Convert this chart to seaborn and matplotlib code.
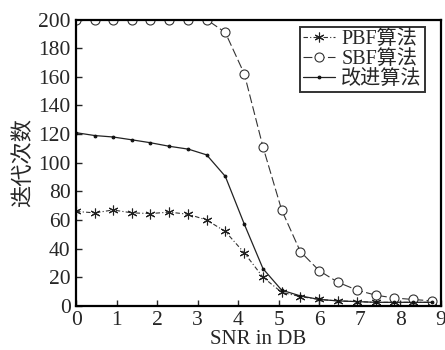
import numpy as np
import pandas as pd
import seaborn as sns
import matplotlib.pyplot as plt

# data
snr = [0.00, 0.46, 0.91, 1.38, 1.83, 2.30, 2.77, 3.22, 3.68, 4.15,
       4.61, 5.07, 5.53, 6.00, 6.46, 6.93, 7.39, 7.85, 8.31, 8.78]
pbf = [66, 65, 67, 65, 64.5, 65.5, 64, 60, 52, 37,
       20, 9.5, 6.5, 4.5, 3.5, 3, 2.5, 2.5, 2.5, 2.5]
sbf = [200, 200, 200, 200, 200, 200, 200, 200, 191, 162,
       111, 67, 38, 24.5, 16.5, 11, 7.5, 5.5, 4.5, 3.5]
improved = [121, 119, 118, 116, 114, 111.5, 109.5, 105.5, 90.5, 57,
            26, 11, 7, 4.5, 3.5, 3, 2.5, 2.5, 2.5, 2.5]
labels = ["PBF算法", "SBF算法", "改进算法"]

df = pd.DataFrame({"snr": snr, labels[0]: pbf, labels[1]: sbf, labels[2]: improved})

sns.set_style("ticks")
plt.rcParams['font.family'] = ['Liberation Serif', 'Noto Sans CJK SC']
plt.rcParams['xtick.direction'] = 'in'
plt.rcParams['ytick.direction'] = 'in'

fig = plt.figure(figsize=(4.45, 3.5), dpi=100)
ax = fig.add_axes([0.171, 0.126, 0.82, 0.818])

sns.lineplot(data=df, x="snr", y=labels[0], ax=ax, color="#333333", lw=0.8,
             linestyle=(0, (4, 2, 1, 2)), marker=(6, 2, 0), markersize=7, mew=0.8,
             mfc="#222222", mec="#222222", label=labels[0])
sns.lineplot(data=df, x="snr", y=labels[1], ax=ax, color="#333333", lw=0.8,
             linestyle=(0, (8, 3)), marker="o", markersize=6.5, mew=0.8,
             mfc="white", mec="#333333", label=labels[1])
sns.lineplot(data=df, x="snr", y=labels[2], ax=ax, color="#222222", lw=0.9,
             linestyle="-", marker=".", markersize=4, mfc="#111111",
             mec="#111111", label=labels[2])

ax.set_xlim(0, 9)
ax.set_ylim(0, 200)
ax.set_xticks(range(10))
ax.set_yticks(range(0, 201, 20))
ax.tick_params(labelsize=15.5, length=4, width=1, pad=4)
for s in ax.spines.values():
    s.set_visible(True)
    s.set_linewidth(1.6)
    s.set_color("black")

ax.set_xlabel("SNR in DB", fontsize=15, labelpad=0)
ax.set_ylabel("迭代次数", fontsize=16, labelpad=3)

leg = ax.legend(loc="upper right", fontsize=14.5, frameon=True, fancybox=False,
                edgecolor="black", borderpad=0.15, labelspacing=0.05,
                handlelength=1.6, handletextpad=0.3, borderaxespad=0.35,
                bbox_to_anchor=(0.975, 1.0))
leg.get_frame().set_linewidth(1.4)

fig.savefig("out.png", dpi=100)
